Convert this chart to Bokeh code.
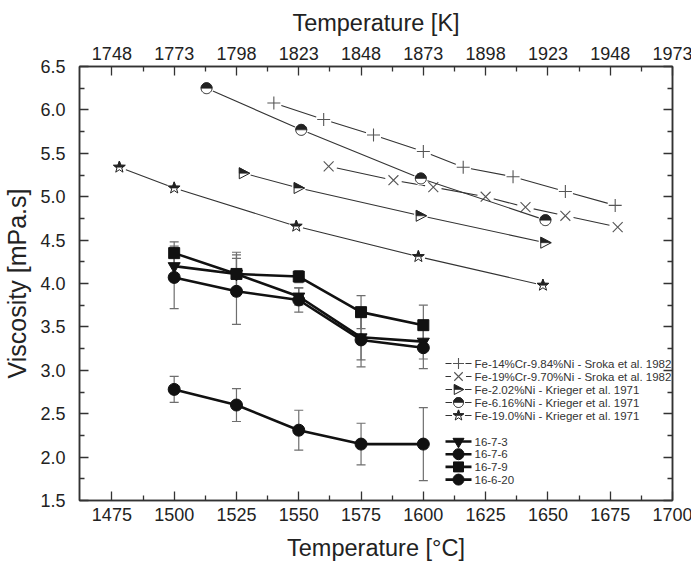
import numpy as np
from bokeh.plotting import figure
from bokeh.models import Range1d, LinearAxis, FixedTicker, NumeralTickFormatter, Whisker, TeeHead, ColumnDataSource
from bokeh.core.properties import value
from bokeh.embed import file_html
from bokeh.resources import INLINE

# ---------------------------------------------------------------- data
# Literature: Sroka et al. 1982
sroka_14cr_t = [1540, 1560, 1580, 1600, 1616, 1636, 1657, 1677]
sroka_14cr_v = [6.08, 5.89, 5.71, 5.52, 5.34, 5.23, 5.06, 4.90]
sroka_19cr_t = [1562, 1588, 1604, 1625, 1641, 1657, 1678]
sroka_19cr_v = [5.35, 5.19, 5.11, 5.00, 4.88, 4.78, 4.65]

# Literature: Krieger et al. 1971
krieger_2ni_t = [1528, 1550, 1599, 1649]
krieger_2ni_v = [5.27, 5.10, 4.78, 4.47]
krieger_6ni_t = [1513, 1551, 1599, 1649]
krieger_6ni_v = [6.25, 5.77, 5.21, 4.73]
krieger_19ni_t = [1478, 1500, 1549, 1598, 1648]
krieger_19ni_v = [5.34, 5.10, 4.66, 4.31, 3.98]

# Measured alloys
temps = [1500, 1525, 1550, 1575, 1600]
v_16_7_3 = [4.20, 4.11, 3.85, 3.38, 3.33]
e_16_7_3 = [0.10, 0.22, 0.10, 0.26, 0.20]
v_16_7_6 = [4.07, 3.91, 3.81, 3.35, 3.26]
e_16_7_6 = [0.36, 0.38, 0.14, 0.31, 0.24]
v_16_7_9 = [4.35, 4.11, 4.08, 3.67, 3.52]
e_16_7_9 = [0.13, 0.25, 0.07, 0.19, 0.23]
v_16_6_20 = [2.78, 2.60, 2.31, 2.15, 2.15]
e_16_6_20 = [0.15, 0.19, 0.23, 0.24, 0.42]

# Axis ticks
celsius_ticks = [1475, 1500, 1525, 1550, 1575, 1600, 1625, 1650, 1675, 1700]
kelvin_labels = ["1748", "1773", "1798", "1823", "1848", "1873", "1898", "1923", "1948", "1973"]
visc_ticks = [1.5, 2.0, 2.5, 3.0, 3.5, 4.0, 4.5, 5.0, 5.5, 6.0, 6.5]

# ---------------------------------------------------------------- layout
X_START, X_END = 1462.0, 1700.0
Y_START, Y_END = 1.5, 6.5
FRAME_W, FRAME_H = 593, 434
LEFT, TOP = 76, 66
SX = (X_END - X_START) / FRAME_W   # data units per screen pixel
SY = (Y_END - Y_START) / FRAME_H
FONT = "Liberation Sans"
INK = "#222222"

p = figure(frame_width=FRAME_W, frame_height=FRAME_H,
           x_range=Range1d(X_START, X_END), y_range=Range1d(Y_START, Y_END),
           min_border_left=LEFT, min_border_right=691 - LEFT - FRAME_W,
           min_border_top=TOP, min_border_bottom=569 - TOP - FRAME_H,
           output_backend="svg", toolbar_location=None)
p.xgrid.visible = False
p.ygrid.visible = False
p.outline_line_color = "#333333"
p.outline_line_width = 1.5
p.background_fill_color = "white"
p.border_fill_color = "white"


def style_axis(ax):
    ax.axis_line_color = "#333333"
    ax.axis_line_width = 1.5
    ax.major_tick_in = 9
    ax.major_tick_out = 0
    ax.minor_tick_in = 5
    ax.minor_tick_out = 0
    ax.major_tick_line_color = "#333333"
    ax.minor_tick_line_color = "#333333"
    ax.major_tick_line_width = 1.3
    ax.minor_tick_line_width = 1.3
    ax.major_label_text_font = FONT
    ax.major_label_text_font_size = "18px"
    ax.major_label_text_color = INK
    ax.axis_label_text_font = FONT
    ax.axis_label_text_font_size = "23.5px"
    ax.axis_label_text_font_style = "normal"
    ax.axis_label_text_color = INK


c_minor = [t + 12.5 for t in celsius_ticks[:-1]]
v_minor = [t + 0.25 for t in visc_ticks[:-1]]

xb = p.xaxis[0]
xb.ticker = FixedTicker(ticks=celsius_ticks, minor_ticks=c_minor)
xb.axis_label = "Temperature [°C]"
style_axis(xb)
xb.major_label_standoff = 7
xb.axis_label_standoff = 11

xt = LinearAxis(ticker=FixedTicker(ticks=celsius_ticks, minor_ticks=c_minor),
                major_label_overrides={c: k for c, k in zip(celsius_ticks, kelvin_labels)},
                axis_label="Temperature [K]")
style_axis(xt)
xt.major_label_standoff = 7
xt.axis_label_standoff = 8
p.add_layout(xt, "above")

yl = p.yaxis[0]
yl.ticker = FixedTicker(ticks=visc_ticks, minor_ticks=v_minor)
yl.formatter = NumeralTickFormatter(format="0.0")
yl.axis_label = "Viscosity [mPa.s]"
style_axis(yl)
yl.axis_label_text_font_size = "25px"
yl.major_label_standoff = 14
yl.axis_label_standoff = 6

# mirrored ticks on the right edge, without labels
yr = LinearAxis(ticker=FixedTicker(ticks=visc_ticks, minor_ticks=v_minor))
style_axis(yr)
yr.major_label_text_color = None
yr.major_label_text_font_size = "0px"
yr.major_label_standoff = 0
p.add_layout(yr, "right")


# ---------------------------------------------------------------- half-filled symbols
def outline(kind, size):
    r = size / 2.0
    if kind == "circle":
        a = np.linspace(0, 2 * np.pi, 40, endpoint=False)
        return list(zip(r * np.cos(a), r * np.sin(a)))
    if kind == "tri_right":
        return [(-0.85 * r, r), (-0.85 * r, -r), (1.05 * r, 0.0)]
    if kind == "star":
        pts = []
        for i in range(10):
            rr = 1.12 * r if i % 2 == 0 else 0.46 * r
            a = np.pi / 2 + i * np.pi / 5
            pts.append((rr * np.cos(a), rr * np.sin(a)))
        return pts
    raise ValueError(kind)


def upper_half(pts):
    """Clip a polygon to its part with y >= 0."""
    out = []
    n = len(pts)
    for i in range(n):
        x1, y1 = pts[i]
        x2, y2 = pts[(i + 1) % n]
        in1, in2 = y1 >= 0, y2 >= 0
        if in1:
            out.append((x1, y1))
        if in1 != in2:
            t = y1 / (y1 - y2)
            out.append((x1 + t * (x2 - x1), 0.0))
    return out


def half_symbols(xs, ys, kind, size):
    full = outline(kind, size)
    half = upper_half(full)
    fx = [[x + dx * SX for dx, _ in full] for x in xs]
    fy = [[y + dy * SY for _, dy in full] for y in ys]
    hx = [[x + dx * SX for dx, _ in half] for x in xs]
    hy = [[y + dy * SY for _, dy in half] for y in ys]
    p.patches(fx, fy, fill_color="white", line_color=INK, line_width=1)
    p.patches(hx, hy, fill_color=INK, line_color=INK, line_width=0.6)


def symbols(xs, ys, symbol, size):
    # white disc behind each symbol leaves a small gap in the connecting line
    p.scatter(xs, ys, marker="circle", size=size + 3, fill_color="white", line_color=None)
    if symbol in ("cross", "x"):
        p.scatter(xs, ys, marker=symbol, size=size, line_color="#555555", line_width=1.1)
    else:
        half_symbols(xs, ys, symbol, size)


def literature(xs, ys, symbol, size):
    p.line(xs, ys, line_color="#333333", line_width=1.1)
    symbols(xs, ys, symbol, size)


literature(sroka_14cr_t, sroka_14cr_v, "cross", 13)
literature(sroka_19cr_t, sroka_19cr_v, "x", 14)
literature(krieger_2ni_t, krieger_2ni_v, "tri_right", 11)
literature(krieger_6ni_t, krieger_6ni_v, "circle", 11)
literature(krieger_19ni_t, krieger_19ni_v, "star", 11)

measured = [
    (v_16_7_3, e_16_7_3, "inverted_triangle"),
    (v_16_7_6, e_16_7_6, "circle"),
    (v_16_7_9, e_16_7_9, "square"),
    (v_16_6_20, e_16_6_20, "circle"),
]
for vals, errs, mk in measured:
    src = ColumnDataSource(dict(t=temps, v=vals,
                                lo=[v - e for v, e in zip(vals, errs)],
                                hi=[v + e for v, e in zip(vals, errs)]))
    p.add_layout(Whisker(base="t", lower="lo", upper="hi", source=src, dimension="height",
                         line_color="#6e6e6e", line_width=1.2,
                         upper_head=TeeHead(size=9, line_color="#6e6e6e", line_width=1.2),
                         lower_head=TeeHead(size=9, line_color="#6e6e6e", line_width=1.2)))
for vals, errs, mk in measured:
    p.line(temps, vals, line_color="#111111", line_width=2.6)
    p.scatter(temps, vals, marker=mk, size=12 if mk != "square" else 11,
              fill_color="#111111", line_color="#111111")


# ---------------------------------------------------------------- legend (inside frame)
def sx_to_data(px):
    return X_START + (px - LEFT) * SX


def sy_to_data(py):
    return Y_END - (py - TOP) * SY


lit_rows = [
    ("Fe-14%Cr-9.84%Ni - Sroka et al. 1982", "cross", 11),
    ("Fe-19%Cr-9.70%Ni - Sroka et al. 1982", "x", 12),
    ("Fe-2.02%Ni - Krieger et al. 1971", "tri_right", 10),
    ("Fe-6.16%Ni - Krieger et al. 1971", "circle", 10),
    ("Fe-19.0%Ni - Krieger et al. 1971", "star", 10),
]
meas_rows = [
    ("16-7-3", "inverted_triangle"),
    ("16-7-6", "circle"),
    ("16-7-9", "square"),
    ("16-6-20", "circle"),
]
g0, g1, gm, tx = sx_to_data(442), sx_to_data(468), sx_to_data(455), sx_to_data(471)

lit_y = [sy_to_data(363 + 13 * i) for i in range(len(lit_rows))]
for (label, sym, size), y in zip(lit_rows, lit_y):
    p.segment(x0=[g0], y0=[y], x1=[g1], y1=[y], line_color="#333333", line_width=1.1)
    symbols([gm], [y], sym, size)

meas_y = [sy_to_data(441 + 12.7 * i) for i in range(len(meas_rows))]
for (label, mk), y in zip(meas_rows, meas_y):
    p.segment(x0=[g0], y0=[y], x1=[g1], y1=[y], line_color="#111111", line_width=2.6)
    p.scatter([gm], [y], marker=mk, size=11 if mk != "square" else 10,
              fill_color="#111111", line_color="#111111")

p.text(x=[tx] * (len(lit_rows) + len(meas_rows)), y=lit_y + meas_y,
       text=[r[0] for r in lit_rows] + [r[0] for r in meas_rows],
       text_font=value(FONT), text_font_size="11.5px", text_color="#333333",
       text_baseline="middle", text_align="left")

open("out.html", "w").write(file_html(p, INLINE))
